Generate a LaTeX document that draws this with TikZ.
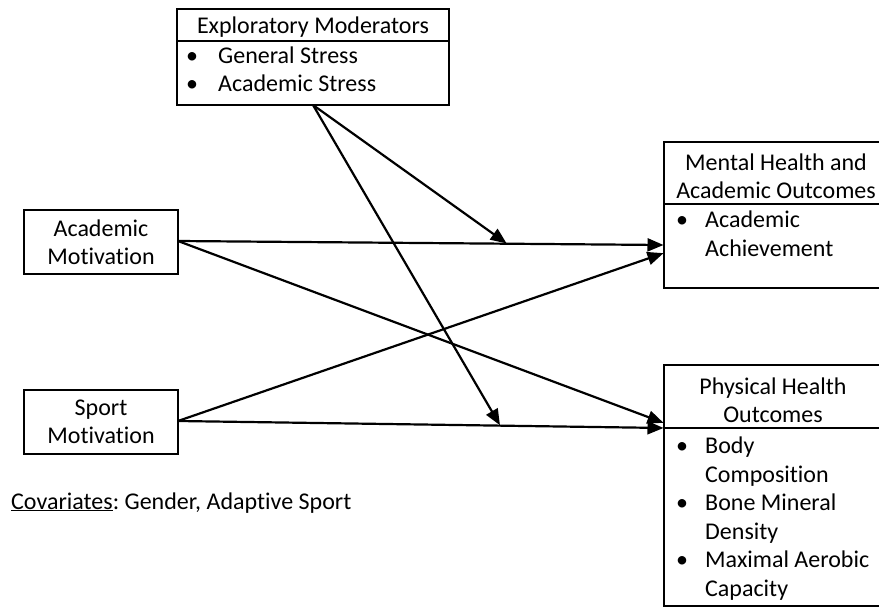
\documentclass[tikz,border=0pt]{standalone}
\usepackage{fontspec}
\setmainfont{Carlito}[Ligatures=NoCommon]
\usetikzlibrary{arrows.meta,calc}
\frenchspacing
\begin{document}
\begin{tikzpicture}[x=1pt,y=-1pt,
  txt/.style={font=\fontsize{24}{28}\selectfont},
  box/.style={draw, line width=1.6pt, inner sep=0pt, outer sep=0pt, anchor=north west,
              txt, align=center},
  item/.style={txt, inner sep=0pt, anchor=base west},
  link/.style={line width=2.2pt, -{Triangle[length=16pt,width=13pt]}, shorten >=0.5pt}]
\useasboundingbox (0,0) rectangle (879,607);

% Moderator box: header and bullet list
\node[box, minimum width=272pt, minimum height=32pt] (modhead) at (177,9) {};
\node[txt, inner sep=0pt] (modtitle) at (313,27) {Exploratory Moderators};
\node[box, minimum width=272pt, minimum height=64pt] (modbody) at (modhead.south west) {};
\node[item] (mb1) at (186,64) {\textbullet};
\node[item] (mt1) at (218,64) {General Stress};
\node[item] (mb2) at (186,92) {\textbullet};
\node[item] (mt2) at (218,92) {Academic Stress};

% Predictors
\node[box, minimum width=154pt, minimum height=64pt] (am) at (24,210) {Academic\\Motivation};
\node[box, minimum width=154pt, minimum height=64pt] (sm) at (24,390) {Sport\\Motivation};

% Mental health outcomes
\node[box, minimum width=218pt, minimum height=62pt] (mhhead) at (664,142) {};
\node[txt, align=center, inner sep=0pt] (mhtitle) at (776,176) {Mental Health and\\Academic Outcomes};
\node[box, minimum width=218pt, minimum height=84pt] (mhbody) at (mhhead.south west) {};
\node[item] (hb1) at (676,228) {\textbullet};
\node[item] (ht1) at (705,228) {Academic};
\node[item] (ht2) at (705,256) {Achievement};

% Physical health outcomes
\node[box, minimum width=218pt, minimum height=63pt] (phhead) at (664,365) {};
\node[txt, align=center, inner sep=0pt] (phtitle) at (773,400) {Physical Health\\Outcomes};
\node[box, minimum width=218pt, minimum height=178pt] (phbody) at (phhead.south west) {};
\node[item] (pb1) at (676,453) {\textbullet};
\node[item] (pt1) at (705,453) {Body};
\node[item] (pt2) at (705,482) {Composition};
\node[item] (pb2) at (676,510) {\textbullet};
\node[item] (pt3) at (705,510) {Bone Mineral};
\node[item] (pt4) at (705,539) {Density};
\node[item] (pb3) at (676,567) {\textbullet};
\node[item] (pt5) at (705,567) {Maximal Aerobic};
\node[item] (pt6) at (705,596) {Capacity};

% Covariates note
\node[item] (cov) at (11,509) {\underline{Covariates}: Gender, Adaptive Sport};

% Direct paths
\coordinate (mhA) at ($(mhbody.west)+(0,-1)$);
\coordinate (mhS) at ($(mhbody.west)+(0,7)$);
\coordinate (phA) at ($(phhead.south west)+(0,-5)$);
\coordinate (phS) at (phhead.south west);
\coordinate (amo) at ($(am.east)+(0,-1)$);
\coordinate (smo) at ($(sm.east)+(0,-1)$);
\draw[link] (amo) -- (mhA);
\draw[link] (amo) -- (phA);
\draw[link] (smo) -- (mhS);
\draw[link] (smo) -- (phS);

% Moderation paths onto the direct paths
\coordinate (modA) at ($(amo)!0.677!(mhA)$);
\coordinate (modS) at ($(smo)!0.663!(phS)$);
\draw[link] (modbody.south) -- (modA);
\draw[link] (modbody.south) -- (modS);
\end{tikzpicture}
\end{document}
